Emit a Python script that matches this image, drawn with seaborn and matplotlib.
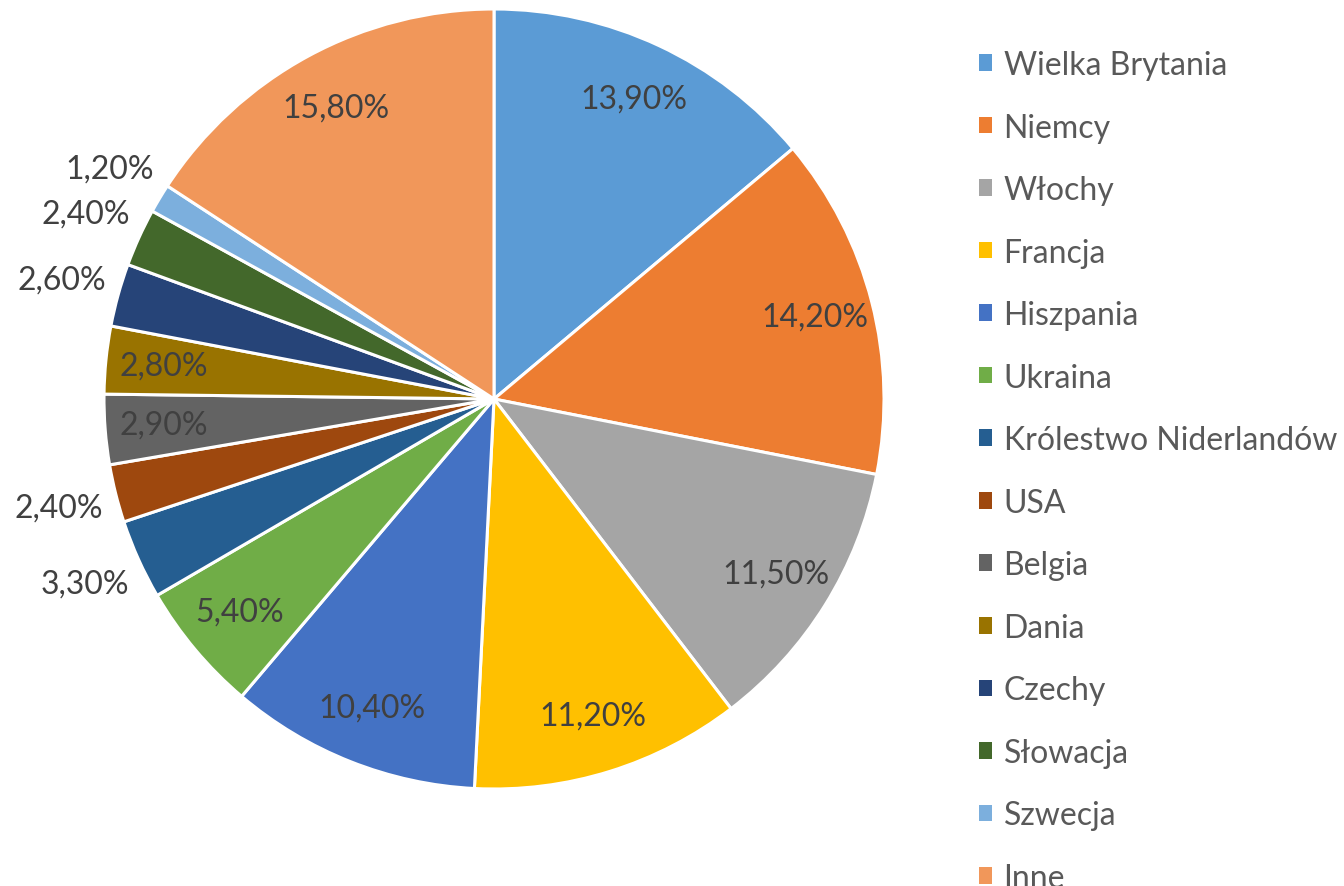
import matplotlib
matplotlib.use("Agg")
import numpy as np
import matplotlib.pyplot as plt
import matplotlib.patches as mpatches
import seaborn as sns

# Udział krajów (%)
countries = ["Wielka Brytania", "Niemcy", "Włochy", "Francja", "Hiszpania", "Ukraina",
             "Królestwo Niderlandów", "USA", "Belgia", "Dania", "Czechy", "Słowacja",
             "Szwecja", "Inne"]
shares = [13.9, 14.2, 11.5, 11.2, 10.4, 5.4, 3.3, 2.4, 2.9, 2.8, 2.6, 2.4, 1.2, 15.8]
colors = ["#5B9BD5", "#ED7D31", "#A5A5A5", "#FFC000", "#4472C4", "#70AD47", "#255E91",
          "#9E480E", "#636363", "#997300", "#264478", "#43682B", "#7CAFDD", "#F1975A"]
# labels placed outside the slice (Excel "best fit")
outside = [False, False, False, False, False, False, True, True, False, False, True, True, True, False]

sns.set_theme(style="white")
plt.rcParams["font.family"] = ["Lato", "DejaVu Sans"]

W, H = 1344, 887
fig = plt.figure(figsize=(W / 100, H / 100), dpi=100)
cx, cy, r = 494, 400, 390
ax = fig.add_axes([(cx - r) / W, (H - cy - r) / H, 2 * r / W, 2 * r / H])

wedges, _ = ax.pie(shares, colors=colors, startangle=90, counterclock=False, radius=1,
                   wedgeprops=dict(edgecolor="white", linewidth=2.2))
ax.set_xlim(-1, 1)
ax.set_ylim(-1, 1)
ax.set_aspect("equal")
ax.axis("off")

for w, val, out in zip(wedges, shares, outside):
    ang = np.deg2rad((w.theta1 + w.theta2) / 2)
    rr = 1.15 if out else 0.85
    txt = f"{val:.2f}%".replace(".", ",")
    ax.text(rr * np.cos(ang), rr * np.sin(ang), txt, ha="center", va="center",
            fontsize=23, color="#404040", clip_on=False)

handles = [mpatches.Patch(facecolor=c, edgecolor="none") for c in colors]
leg = fig.legend(handles, countries, loc="upper left", bbox_to_anchor=(979 / W, 1 - 51 / H),
                 frameon=False, fontsize=23, handlelength=0.42, handleheight=0.42,
                 handletextpad=0.35, labelspacing=1.018, borderpad=0, borderaxespad=0)
for t in leg.get_texts():
    t.set_color("#595959")

fig.savefig("out.png", dpi=100, facecolor="white")
